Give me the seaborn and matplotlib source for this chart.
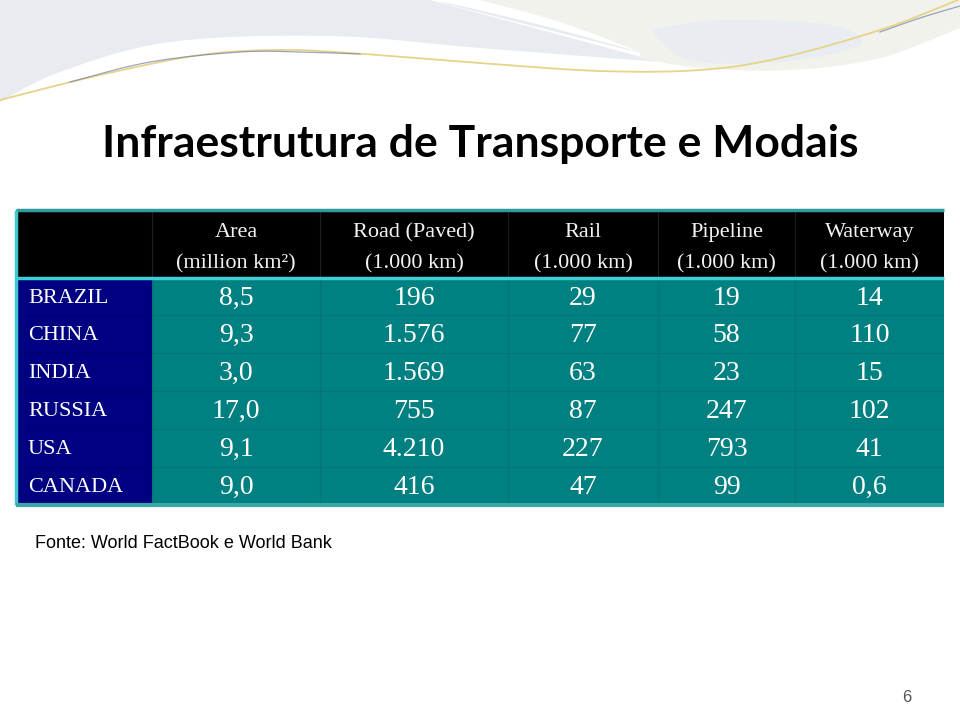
import numpy as np
import pandas as pd
import matplotlib
matplotlib.use("Agg")
import matplotlib.pyplot as plt
import seaborn as sns
from matplotlib.colors import ListedColormap

# =========================
# DATA
# =========================
title = "Infraestrutura de Transporte e Modais"
source = "Fonte: World FactBook e World Bank"
page = "6"

countries = ["BRAZIL", "CHINA", "INDIA", "RUSSIA", "USA", "CANADA"]
headers = ["Area\n(million km²)", "Road (Paved)\n(1.000 km)", "Rail\n(1.000 km)",
           "Pipeline\n(1.000 km)", "Waterway\n(1.000 km)"]
area = [8.5, 9.3, 3.0, 17.0, 9.1, 9.0]
road = [196, 1576, 1569, 755, 4210, 416]
rail = [29, 77, 63, 87, 227, 47]
pipeline = [19, 58, 23, 247, 793, 99]
waterway = [14, 110, 15, 102, 41, 0.6]

df = pd.DataFrame({headers[0]: area, headers[1]: road, headers[2]: rail,
                   headers[3]: pipeline, headers[4]: waterway}, index=countries)


def fmt(v, dec=0):
    # Portuguese style: comma decimal, dot thousands
    if dec == 0 and float(v) != int(v):
        dec = 1
    s = f"{v:,.{dec}f}"
    return s.replace(",", "#").replace(".", ",").replace("#", ".")


# cell colour codes: 0 header (black), 1 row label (navy), 2 values (teal)
codes = np.full((len(countries) + 1, len(headers) + 1), 2)
codes[0, :] = 0
codes[1:, 0] = 1

# =========================
# LAYOUT (pixel edges of the table)
# =========================
W, H = 960, 720
col_px = np.array([16, 152, 320, 508, 658, 795, 944], float)
row_px = np.array([210, 278, 315, 353, 391, 429, 467, 505], float)
col_idx = np.arange(len(col_px), dtype=float)
row_idx = np.arange(len(row_px), dtype=float)

fig = plt.figure(figsize=(W / 100, H / 100), dpi=100)
fig.patch.set_facecolor("white")


# =========================
# BACKGROUND SWOOSHES
# =========================
def smooth(pts, n=40):
    pts = np.asarray(pts, float)
    p = np.vstack([pts[0], pts, pts[-1]])
    out = []
    for i in range(1, len(p) - 2):
        p0, p1, p2, p3 = p[i - 1], p[i], p[i + 1], p[i + 2]
        t = np.linspace(0, 1, n)[:, None]
        out.append(0.5 * ((2 * p1) + (-p0 + p2) * t + (2 * p0 - 5 * p1 + 4 * p2 - p3) * t ** 2
                          + (-p0 + 3 * p1 - 3 * p2 + p3) * t ** 3))
    return np.vstack(out)


bg = fig.add_axes([0, 0, 1, 1], zorder=-5)
bg.set_xlim(0, W)
bg.set_ylim(H, 0)
bg.axis("off")

left_low = smooth([(0, 102), (60, 72), (170, 42), (330, 36), (480, 48), (660, 62)])
streak_l = smooth([(660, 58), (560, 30), (470, 8), (430, 0)])
reg1 = np.vstack([[(0, 0), (430, 0)], streak_l, left_low[::-1]])
bg.fill(reg1[:, 0], reg1[:, 1], color="#e8ebef", lw=0)

right_low = smooth([(960, 28), (880, 58), (790, 70), (700, 68), (640, 58)])
streak_r = smooth([(640, 52), (560, 22), (480, 0)])
reg2 = np.vstack([[(480, 0), (960, 0)], right_low, streak_r])
bg.fill(reg2[:, 0], reg2[:, 1], color="#f1f2ec", lw=0)
blob = smooth([(650, 30), (720, 20), (830, 25), (860, 45), (780, 62), (690, 60), (650, 30)])
bg.fill(blob[:, 0], blob[:, 1], color="#e9edf1", lw=0)

yl = smooth([(0, 100), (100, 75), (200, 55), (280, 50), (350, 53), (480, 63),
             (600, 71), (700, 70), (780, 58), (880, 30), (958, 0)])
bg.plot(yl[:, 0], yl[:, 1], color="#e6d48a", lw=1.3)
bl = smooth([(70, 82), (150, 62), (240, 52), (300, 52), (360, 54)])
bg.plot(bl[:, 0], bl[:, 1], color="#7080a8", lw=0.9, alpha=0.7)
br = smooth([(880, 32), (920, 18), (960, 6)])
bg.plot(br[:, 0], br[:, 1], color="#7080a8", lw=0.9, alpha=0.7)

# =========================
# TABLE (heatmap of cell types)
# =========================
ax = fig.add_axes([col_px[0] / W, 1 - row_px[-1] / H,
                   (col_px[-1] - col_px[0]) / W, (row_px[-1] - row_px[0]) / H])
sns.heatmap(codes, cmap=ListedColormap(["#000000", "#000080", "#008080"]),
            vmin=-0.5, vmax=2.5, cbar=False, linewidths=0, ax=ax)

ax.set_xscale("function", functions=(lambda x: np.interp(x, col_idx, col_px),
                                     lambda p: np.interp(p, col_px, col_idx)))
ax.set_yscale("function", functions=(lambda y: np.interp(y, row_idx, row_px),
                                     lambda p: np.interp(p, row_px, row_idx)))
ax.set_xlim(0, len(col_px) - 1)
ax.set_ylim(len(row_px) - 1, 0)
ax.set_xticks([])
ax.set_yticks([])
ax.set_xlabel("")
ax.set_ylabel("")

nrows, ncols = codes.shape
# faint cell separators
ax.vlines(np.arange(1, ncols), 0, 1, color="#1e1e1e", lw=0.8)
ax.vlines(np.arange(1, ncols), 1, nrows, color="#000000", lw=0.8, alpha=0.07)
ax.hlines(np.arange(2, nrows), 0, ncols, color="#000000", lw=0.8, alpha=0.07)

# borders
ax.hlines(0, 0, ncols, color="#2f9c9c", lw=2.5, clip_on=False)
ax.hlines(1, 0, ncols, color="#3fcfd2", lw=2.5, clip_on=False)
ax.vlines(0, 0, nrows, color="#3fc8d0", lw=2.5, clip_on=False)
ax.hlines(nrows, 0, ncols, color="#3aa6a6", lw=3, clip_on=False)

serif = "Liberation Serif"
for j, h in enumerate(df.columns):
    ax.text(j + 1.5, 0.56, h, ha="center", va="center", color="#f2f2f2",
            fontsize=16, family=serif, linespacing=1.85)

label_x = np.interp(28, col_px, col_idx)
for i, c in enumerate(df.index):
    ax.text(label_x, i + 1.55, c, ha="left", va="center", color="white",
            fontsize=16, family=serif)
    for j, h in enumerate(df.columns):
        ax.text(j + 1.5, i + 1.55, fmt(df.loc[c, h], 1 if j == 0 else 0),
                ha="center", va="center", color="white", fontsize=20, family=serif)

# =========================
# TEXTS
# =========================
fig.text(480 / W, 1 - 144 / H, title, ha="center", va="center",
         fontsize=32, fontweight="bold", family="Lato", color="black")
fig.text(35 / W, 1 - 544 / H, source, ha="left", va="center",
         fontsize=13, family="Liberation Sans", color="black")
fig.text(907 / W, 1 - 697 / H, page, ha="center", va="center",
         fontsize=12, family="Liberation Sans", color="#555555")

fig.savefig("out.png", dpi=100)
